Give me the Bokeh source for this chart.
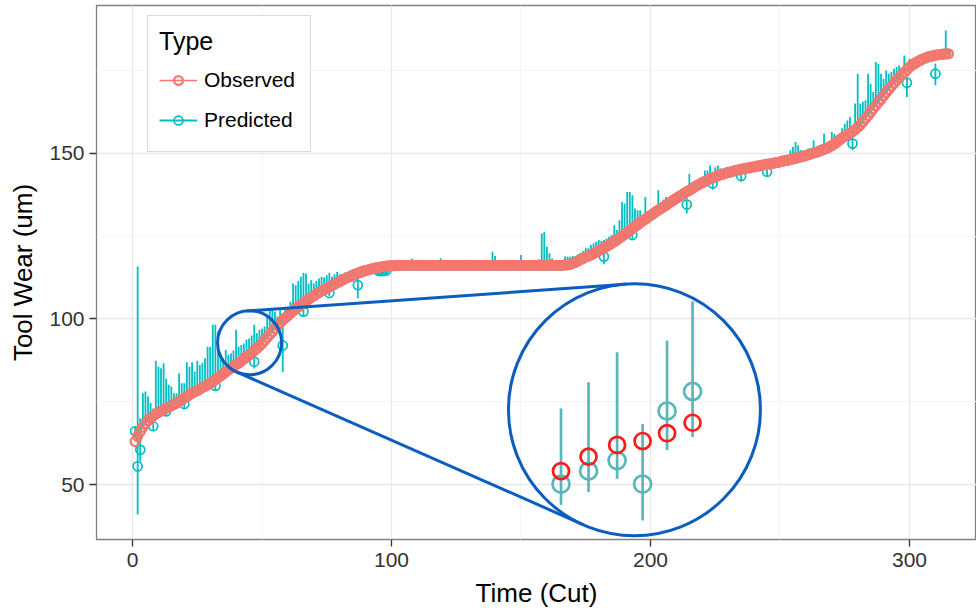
import math
from bokeh.plotting import figure
from bokeh.models import Range1d, SingleIntervalTicker, Legend, LegendItem, ColumnDataSource
from bokeh.embed import file_html
from bokeh.resources import INLINE

# ---------------- data ----------------
observed = [
    63.0, 64.6, 66.0, 67.3, 68.4, 69.3, 70.1, 70.7, 71.3, 71.8,
    72.2, 72.6, 73.0, 73.4, 73.8, 74.2, 74.6, 75.1, 75.6, 76.1,
    76.6, 77.1, 77.6, 78.0, 78.4, 78.8, 79.3, 79.7, 80.1, 80.6,
    81.1, 81.7, 82.2, 82.8, 83.4, 84.0, 84.6, 85.1, 85.6, 86.2,
    86.7, 87.3, 87.9, 88.5, 89.1, 89.7, 90.4, 91.1, 91.8, 92.6,
    93.5, 94.4, 95.3, 96.2, 97.1, 98.0, 98.8, 99.6, 100.3, 101.0,
    101.7, 102.4, 103.0, 103.6, 104.2, 104.8, 105.4, 105.9, 106.5, 107.0,
    107.5, 108.0, 108.4, 108.8, 109.2, 109.7, 110.1, 110.5, 110.9, 111.3,
    111.7, 112.1, 112.5, 112.8, 113.2, 113.5, 113.8, 114.1, 114.4, 114.6,
    114.8, 115.0, 115.2, 115.4, 115.5, 115.7, 115.8, 115.9, 116.0, 116.0,
    116.1, 116.1, 116.2, 116.2, 116.2, 116.2, 116.2, 116.2, 116.2, 116.2,
    116.2, 116.2, 116.2, 116.2, 116.2, 116.2, 116.2, 116.2, 116.2, 116.2,
    116.2, 116.2, 116.2, 116.2, 116.2, 116.2, 116.2, 116.2, 116.2, 116.2,
    116.2, 116.2, 116.2, 116.2, 116.2, 116.2, 116.2, 116.2, 116.2, 116.2,
    116.2, 116.2, 116.2, 116.2, 116.2, 116.2, 116.2, 116.2, 116.2, 116.2,
    116.2, 116.2, 116.2, 116.2, 116.2, 116.2, 116.2, 116.2, 116.2, 116.2,
    116.2, 116.2, 116.2, 116.2, 116.2, 116.2, 116.3, 116.3, 116.5, 116.8,
    117.1, 117.5, 117.9, 118.3, 118.7, 119.0, 119.3, 119.7, 120.1, 120.6,
    121.0, 121.4, 121.9, 122.3, 122.8, 123.3, 123.8, 124.4, 124.9, 125.5,
    126.0, 126.6, 127.2, 127.8, 128.4, 129.0, 129.6, 130.1, 130.7, 131.2,
    131.7, 132.3, 132.8, 133.3, 133.8, 134.3, 134.9, 135.4, 135.9, 136.4,
    136.9, 137.4, 137.9, 138.4, 138.8, 139.3, 139.8, 140.3, 140.7, 141.1,
    141.5, 141.9, 142.3, 142.6, 142.9, 143.2, 143.5, 143.7, 144.0, 144.2,
    144.4, 144.6, 144.8, 145.0, 145.2, 145.3, 145.5, 145.6, 145.8, 145.9,
    146.1, 146.2, 146.4, 146.5, 146.7, 146.8, 146.9, 147.1, 147.2, 147.4,
    147.6, 147.8, 147.9, 148.1, 148.3, 148.5, 148.7, 148.9, 149.1, 149.3,
    149.6, 149.8, 150.1, 150.3, 150.6, 150.9, 151.2, 151.5, 151.9, 152.3,
    152.8, 153.4, 154.0, 154.6, 155.1, 155.6, 156.0, 156.5, 157.1, 157.8,
    158.5, 159.5, 160.5, 161.4, 162.4, 163.4, 164.4, 165.4, 166.3, 167.3,
    168.3, 169.3, 170.2, 171.1, 172.0, 172.8, 173.6, 174.4, 175.2, 176.0,
    176.6, 177.1, 177.6, 178.0, 178.4, 178.7, 179.0, 179.2, 179.4, 179.6,
    179.7, 179.8, 179.9, 180.0, 180.0,
]

predicted = [
    66.1, 55.5, 60.5, 67.3, 68.4, 69.3, 70.1, 67.6, 71.3, 71.8,
    72.2, 72.6, 72.1, 73.4, 73.8, 74.2, 74.6, 75.1, 75.6, 74.3,
    76.6, 77.1, 77.6, 78.0, 78.4, 78.8, 79.3, 79.7, 80.1, 80.6,
    81.1, 79.8, 82.2, 82.8, 83.4, 84.0, 84.6, 85.1, 85.6, 86.2,
    86.7, 87.3, 87.9, 88.5, 89.1, 89.7, 87.1, 91.1, 91.8, 92.6,
    93.5, 94.4, 95.3, 96.2, 97.1, 98.0, 98.8, 92.0, 100.3, 101.0,
    101.7, 102.4, 103.0, 103.6, 104.2, 102.2, 105.4, 105.9, 106.5, 107.0,
    107.5, 108.0, 108.4, 108.8, 109.2, 107.8, 110.1, 110.5, 110.9, 111.3,
    111.7, 112.1, 112.5, 112.8, 113.2, 113.5, 110.2, 114.1, 114.4, 114.6,
    114.8, 115.0, 115.2, 115.4, 114.5, 114.4, 114.5, 114.6, 116.0, 116.0,
    116.1, 116.1, 116.2, 116.2, 116.2, 116.2, 116.2, 116.2, 116.2, 116.2,
    116.2, 116.2, 116.2, 116.2, 116.2, 116.2, 116.2, 116.2, 116.2, 116.2,
    116.2, 116.2, 116.2, 116.2, 116.2, 116.2, 116.2, 116.2, 116.2, 116.2,
    116.2, 116.2, 116.2, 116.2, 116.2, 116.2, 116.2, 116.2, 116.2, 116.2,
    116.2, 116.2, 116.2, 116.2, 116.2, 116.2, 116.2, 116.2, 116.2, 116.2,
    116.2, 116.2, 116.2, 116.2, 116.2, 116.2, 116.2, 116.2, 116.2, 116.2,
    116.2, 116.2, 116.2, 116.2, 116.2, 116.2, 116.3, 116.3, 116.5, 116.8,
    117.1, 117.5, 117.9, 118.3, 118.7, 119.0, 119.3, 119.7, 120.1, 120.6,
    121.0, 118.8, 121.9, 122.3, 122.8, 123.3, 123.8, 124.4, 124.9, 125.5,
    126.0, 126.6, 125.3, 127.8, 128.4, 129.0, 129.6, 130.1, 130.7, 131.2,
    131.7, 132.3, 132.8, 133.3, 133.8, 134.3, 134.9, 135.4, 135.9, 136.4,
    136.9, 137.4, 137.9, 134.5, 138.8, 139.3, 139.8, 140.3, 140.7, 141.1,
    141.5, 141.9, 142.3, 140.9, 142.9, 143.2, 143.5, 143.7, 144.0, 144.2,
    144.4, 144.6, 144.8, 145.0, 143.1, 145.3, 145.5, 145.6, 145.8, 145.9,
    146.1, 146.2, 146.4, 146.5, 144.4, 146.8, 146.9, 147.1, 147.2, 147.4,
    147.6, 147.8, 147.9, 148.1, 148.3, 148.5, 148.7, 148.9, 149.1, 149.3,
    149.6, 149.8, 150.1, 150.3, 150.6, 150.9, 151.2, 151.5, 151.9, 152.3,
    152.8, 153.4, 154.0, 154.6, 155.1, 155.6, 156.0, 152.9, 157.1, 157.8,
    158.5, 159.5, 160.5, 161.4, 162.4, 163.4, 164.4, 165.4, 166.3, 167.3,
    168.3, 169.3, 170.2, 171.1, 172.0, 172.8, 173.6, 174.4, 171.3, 176.0,
    176.6, 177.1, 177.6, 178.0, 178.4, 178.7, 179.0, 179.2, 179.4, 174.0,
    179.7, 179.8, 179.9, 180.0, 180.0,
]

pred_lower = [
    64.0, 41.0, 57.0, 67, 68, 69, 70, 66.2, 71, 71,
    72, 72, 70.8, 73, 73, 74, 74, 75, 75, 73.0,
    76, 77, 77, 78, 78, 78, 79, 79, 80, 80,
    81, 78.5, 82, 82, 83, 84, 84, 85, 85, 86,
    86, 87, 87, 88, 89, 89, 85.0, 91, 91, 92,
    93, 94, 95, 96, 97, 98, 98, 84.0, 100, 101,
    101, 102, 103, 103, 104, 100.8, 105, 105, 106, 107,
    107, 108, 108, 108, 109, 106.8, 110, 110, 110, 111,
    111, 112, 112, 112, 113, 113, 106.2, 114, 114, 114,
    114, 115, 115, 115, 113.5, 113.5, 113.5, 113.5, 116, 116,
    116, 116, 116, 116, 116, 116, 116, 116, 116, 116,
    116, 116, 116, 116, 116, 116, 116, 116, 116, 116,
    116, 116, 116, 116, 116, 116, 116, 116, 116, 116,
    116, 116, 116, 116, 116, 116, 116, 116, 116, 116,
    116, 116, 116, 116, 116, 116, 116, 116, 116, 116,
    116, 116, 116, 116, 116, 116, 116, 116, 116, 116,
    116, 116, 116, 116, 116, 116, 116, 116, 116, 116,
    117, 117, 117, 118, 118, 119, 119, 119, 120, 120,
    121, 116.5, 121, 122, 122, 123, 123, 124, 124, 125,
    126, 126, 123.8, 127, 128, 129, 129, 130, 130, 131,
    131, 132, 132, 133, 133, 134, 134, 135, 135, 136,
    136, 137, 137, 131.8, 138, 139, 139, 140, 140, 141,
    141, 141, 142, 139.0, 142, 143, 143, 143, 144, 144,
    144, 144, 144, 145, 141.5, 145, 145, 145, 145, 145,
    146, 146, 146, 146, 143.0, 146, 146, 147, 147, 147,
    147, 147, 147, 148, 148, 148, 148, 148, 149, 149,
    149, 149, 150, 150, 150, 150, 151, 151, 151, 152,
    152, 153, 154, 154, 155, 155, 156, 150.9, 157, 157,
    158, 159, 160, 161, 162, 163, 164, 165, 166, 167,
    168, 169, 170, 171, 172, 172, 173, 174, 167.0, 176,
    176, 177, 177, 178, 178, 178, 179, 179, 179, 170.5,
    179, 179, 179, 180, 180,
]

pred_upper = [
    67.5, 115.8, 70.0, 77.6, 78.1, 76.6, 74.6, 73.0, 87.4, 85.6,
    85.1, 86.6, 82.0, 80.1, 79.6, 77.6, 77.6, 83.6, 80.6, 80.6,
    86.9, 85.6, 86.9, 84.1, 87.4, 86.1, 86.8, 88.1, 91.6, 91.6,
    98.2, 98.2, 96.2, 89.6, 88.1, 90.6, 89.1, 89.6, 90.5, 96.7,
    91.6, 92.1, 92.6, 93.7, 94.1, 95.0, 98.2, 95.7, 96.7, 97.0,
    97.7, 101.0, 102.7, 103.2, 102.2, 100.7, 102.7, 101.8, 103.0, 103.7,
    105.2, 110.7, 110.2, 111.5, 112.7, 113.9, 113.7, 110.7, 111.7, 110.7,
    111.5, 112.2, 112.7, 112.5, 113.2, 113.9, 112.7, 113.5, 114.2, 113.5,
    113.5, 114.0, 113.8, 114.5, 114.6, 115.0, 113.0, 115.5, 115.8, 116.2,
    116.0, 116.3, 116.5, 116.4, 116.0, 115.5, 115.6, 115.8, 117.1, 117.3,
    117.2, 117.0, 117.3, 117.1, 117.2, 117.4, 117.2, 118.2, 117.1, 117.3,
    117.2, 117.0, 117.3, 117.2, 117.1, 117.3, 117.2, 117.4, 118.3, 117.2,
    117.1, 117.3, 117.2, 117.0, 117.2, 117.3, 117.1, 117.2, 117.4, 117.8,
    117.2, 117.1, 117.3, 117.2, 117.0, 117.3, 117.2, 117.4, 120.3, 119.0,
    117.2, 117.3, 117.1, 117.2, 117.4, 117.2, 117.1, 117.3, 117.2, 119.3,
    117.2, 117.1, 117.3, 117.4, 117.2, 117.6, 118.0, 125.8, 126.3, 121.8,
    119.8, 118.2, 117.6, 117.4, 117.3, 117.8, 118.8, 118.8, 118.8, 119.0,
    118.8, 119.5, 120.0, 120.5, 121.5, 121.3, 122.3, 122.8, 123.3, 123.8,
    123.5, 123.8, 124.3, 124.8, 125.3, 128.3, 126.8, 129.8, 135.3, 134.8,
    138.3, 138.3, 137.3, 133.3, 132.8, 132.8, 131.3, 136.8, 132.0, 132.5,
    133.3, 134.0, 138.8, 135.3, 136.0, 136.8, 136.5, 137.3, 137.5, 138.3,
    138.0, 138.5, 139.3, 136.5, 143.8, 141.3, 141.0, 141.3, 141.5, 142.5,
    144.8, 144.8, 146.3, 143.0, 145.8, 146.3, 145.5, 145.0, 145.2, 145.5,
    145.8, 146.0, 146.2, 146.3, 145.0, 146.6, 146.8, 146.9, 147.0, 147.1,
    147.3, 147.4, 147.6, 147.7, 146.5, 147.9, 148.0, 148.2, 148.3, 148.5,
    148.7, 149.0, 149.2, 150.9, 151.9, 153.4, 152.4, 151.0, 150.4, 150.6,
    151.4, 151.5, 153.9, 151.9, 152.4, 152.6, 155.9, 152.4, 153.0, 156.4,
    155.9, 154.4, 155.5, 157.5, 158.9, 159.9, 160.9, 155.9, 165.0, 174.0,
    165.0, 165.5, 166.0, 174.0, 171.0, 168.5, 177.5, 177.0, 174.0, 172.5,
    175.0, 174.0, 174.5, 175.5, 176.0, 176.5, 175.0, 179.5, 172.5, 178.5,
    177.5, 179.0, 178.5, 178.0, 179.0, 179.3, 179.0, 179.5, 179.8, 177.0,
    180.5, 180.5, 180.8, 187.0, 181.0,
]

cuts = list(range(1, len(observed) + 1))

x_ticks = [0, 100, 200, 300]
y_ticks = [50, 100, 150]

# zoomed-in detail (magnified view of the region around cut 45)
inset_cut = [38.0, 40.7, 43.5, 46.0, 48.4, 50.9]
inset_observed = [88.1, 89.2, 90.1, 90.4, 91.0, 91.8]
inset_predicted = [87.1, 88.1, 88.9, 87.1, 92.7, 94.2]
inset_lower = [85.5, 86.5, 87.5, 84.3, 89.7, 90.7]
inset_upper = [92.9, 94.9, 97.2, 91.7, 98.1, 101.1]

zoom_center = (45.2, 92.8)      # data coords of the small circle
inset_center = (193.8, 72.6)    # data coords of the big circle
zoom_radius_px = 32
inset_radius_px = 126

# ---------------- styling ----------------
CORAL = "#F8766D"
TEAL = "#00BFC4"
BLUE = "#0B5DBE"
INSET_RED = "#FF1A1A"
INSET_TEAL = "#5BB6B8"
FONT = "Liberation Sans"

X0, X1 = -13.9, 325.87
Y0, Y1 = 33.43, 194.58
W, H = 976, 610
BL, BR, BT, BB = 96, 0, 5, 70
FW, FH = W - BL - BR, H - BT - BB

p = figure(width=W, height=H, x_range=Range1d(X0, X1), y_range=Range1d(Y0, Y1),
           output_backend="svg", toolbar_location=None,
           min_border_left=BL, min_border_right=BR, min_border_top=BT, min_border_bottom=BB,
           background_fill_color="white", border_fill_color="white")

p.outline_line_color = "#808080"
p.outline_line_width = 1.3

p.xaxis.ticker = SingleIntervalTicker(interval=100, num_minor_ticks=2)
p.yaxis.ticker = SingleIntervalTicker(interval=50, num_minor_ticks=2)
for g in (p.xgrid, p.ygrid):
    g.grid_line_color = "#e8e8e8"
    g.grid_line_width = 1.3
    g.minor_grid_line_color = "#f4f4f4"
    g.minor_grid_line_width = 1.0

for ax in (p.xaxis, p.yaxis):
    ax.axis_line_color = None
    ax.major_tick_line_color = "#333333"
    ax.major_tick_line_width = 1.3
    ax.major_tick_out = 7
    ax.major_tick_in = 0
    ax.minor_tick_line_color = None
    ax.major_label_text_font = FONT
    ax.major_label_text_font_size = "21px"
    ax.major_label_text_color = "#333333"
    ax.axis_label_text_font = FONT
    ax.axis_label_text_font_size = "26px"
    ax.axis_label_text_font_style = "normal"
    ax.axis_label_text_color = "black"

p.xaxis.axis_label = "Time (Cut)"
p.yaxis.axis_label = "Tool Wear (um)"
p.xaxis.major_label_standoff = 6
p.xaxis.axis_label_standoff = 8
p.yaxis.major_label_standoff = 5
p.yaxis.axis_label_standoff = 8

src = ColumnDataSource(dict(cut=cuts, obs=observed, pred=predicted,
                            lo=pred_lower, hi=pred_upper))

pred_seg = p.segment(x0="cut", y0="lo", x1="cut", y1="hi", source=src,
                     line_color=TEAL, line_width=1.8)
pred_pts = p.scatter(x="cut", y="pred", source=src, marker="circle", size=9,
                     fill_color=None, line_color=TEAL, line_width=1.7)
obs_line = p.line(x="cut", y="obs", source=src, line_color=CORAL, line_width=1.6)
obs_pts = p.scatter(x="cut", y="obs", source=src, marker="circle", size=9,
                    fill_color=None, line_color=CORAL, line_width=2.2)

# ---------------- zoom annotation ----------------
kx = FW / (X1 - X0)
ky = FH / (Y1 - Y0)
M = inset_radius_px / zoom_radius_px
zx, zy = zoom_center
ix, iy = inset_center

c1 = (zx * kx, zy * ky)
c2 = (ix * kx, iy * ky)
dx, dy = c2[0] - c1[0], c2[1] - c1[1]
dist = math.hypot(dx, dy)
base = math.atan2(dy, dx)
a = math.acos((zoom_radius_px - inset_radius_px) / dist)
lx0, ly0, lx1, ly1 = [], [], [], []
for s in (1, -1):
    ang = base + s * a
    nx, ny = math.cos(ang), math.sin(ang)
    lx0.append((c1[0] + zoom_radius_px * nx) / kx)
    ly0.append((c1[1] + zoom_radius_px * ny) / ky)
    lx1.append((c2[0] + inset_radius_px * nx) / kx)
    ly1.append((c2[1] + inset_radius_px * ny) / ky)

p.segment(x0=lx0, y0=ly0, x1=lx1, y1=ly1, line_color=BLUE, line_width=3)
p.scatter(x=[zx], y=[zy], size=2 * zoom_radius_px, marker="circle",
          fill_color=None, line_color=BLUE, line_width=3)
p.scatter(x=[ix], y=[iy], size=2 * inset_radius_px, marker="circle",
          fill_color=None, line_color=BLUE, line_width=3)

ins_x = [ix + (c - zx) * M for c in inset_cut]
ins_obs = [iy + (v - zy) * M for v in inset_observed]
ins_pred = [iy + (v - zy) * M for v in inset_predicted]
ins_lo = [iy + (v - zy) * M for v in inset_lower]
ins_hi = [iy + (v - zy) * M for v in inset_upper]

p.segment(x0=ins_x, y0=ins_lo, x1=ins_x, y1=ins_hi, line_color=INSET_TEAL, line_width=2.7)
p.scatter(x=ins_x, y=ins_pred, marker="circle", size=17, fill_color=None,
          line_color=INSET_TEAL, line_width=2.7)
p.scatter(x=ins_x, y=ins_obs, marker="circle", size=16, fill_color=None,
          line_color=INSET_RED, line_width=2.7)

# ---------------- legend ----------------
legend = Legend(items=[LegendItem(label="Observed", renderers=[obs_line, obs_pts]),
                       LegendItem(label="Predicted", renderers=[pred_seg, pred_pts])],
                location=(51, 387), title="Type")
legend.title_text_font = FONT
legend.title_text_font_size = "25px"
legend.title_text_font_style = "normal"
legend.title_text_color = "black"
legend.title_standoff = 4
legend.label_text_font = FONT
legend.label_text_font_size = "21px"
legend.label_text_color = "black"
legend.label_standoff = 7
legend.label_height = 40
legend.label_width = 95
legend.glyph_width = 38
legend.glyph_height = 22
legend.spacing = 0
legend.padding = 11
legend.margin = 0
legend.border_line_color = "#b3b3b3"
legend.border_line_width = 1.6
legend.background_fill_color = "white"
legend.background_fill_alpha = 1.0
p.add_layout(legend)

open("out.html", "w").write(file_html(p, INLINE))
